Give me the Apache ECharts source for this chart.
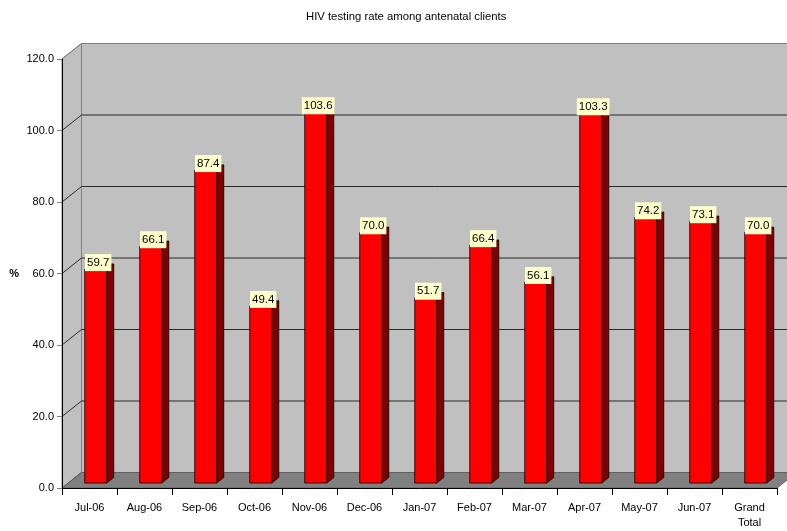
<!DOCTYPE html>
<html>
<head>
<meta charset="utf-8">
<script src="https://cdn.jsdelivr.net/npm/echarts@6/dist/echarts.min.js"></script>
<style>
  html, body { margin: 0; padding: 0; background: #fff; }
  #chart { width: 787px; height: 531px; }
</style>
</head>
<body>
<div id="chart"></div>
<script>
// Monthly HIV testing rate among antenatal clients (%)
const categories = ['Jul-06', 'Aug-06', 'Sep-06', 'Oct-06', 'Nov-06', 'Dec-06',
  'Jan-07', 'Feb-07', 'Mar-07', 'Apr-07', 'May-07', 'Jun-07', 'Grand\nTotal'];
const rates = [59.7, 66.1, 87.4, 49.4, 103.6, 70.0, 51.7, 66.4, 56.1, 103.3, 74.2, 73.1, 70.0];
const yTicks = [0, 20, 40, 60, 80, 100, 120];

// 3D projection: pixel shift of the back plane relative to the front plane
const DEPTH_X = 19.5;
const DEPTH_Y = -15.5;
const BAR_D0 = 0.32;   // bar front face depth fraction
const BAR_D1 = 0.68;   // bar back face depth fraction
const BAR_W = 0.4;     // bar width as fraction of category width
const FONT = '"Liberation Sans", Arial, sans-serif';

const chart = echarts.init(document.getElementById('chart'), null, { renderer: 'canvas' });

function renderWalls(params, api) {
  const n = categories.length;
  const band = api.size([1, 0])[0];
  const p0 = api.coord([0, 0]);
  const x0 = p0[0] - band / 2;
  const x1 = api.coord([n - 1, 0])[0] + band / 2;
  const yBottom = api.coord([0, yTicks[0]])[1];
  const yTop = api.coord([0, yTicks[yTicks.length - 1]])[1];
  const children = [];
  const rightEdge = params.coordSys.x + params.coordSys.width + 40;
  // back wall
  children.push({
    type: 'rect',
    shape: { x: x0 + DEPTH_X, y: yTop + DEPTH_Y, width: rightEdge - (x0 + DEPTH_X), height: yBottom - yTop },
    style: { fill: '#C0C0C0', stroke: '#808080', lineWidth: 1 }
  });
  // left side wall
  children.push({
    type: 'polygon',
    shape: { points: [[x0, yTop], [x0 + DEPTH_X, yTop + DEPTH_Y], [x0 + DEPTH_X, yBottom + DEPTH_Y], [x0, yBottom]] },
    style: { fill: '#C0C0C0', stroke: '#808080', lineWidth: 1 }
  });
  // floor
  children.push({
    type: 'polygon',
    shape: { points: [[x0, yBottom], [x1, yBottom], [x1 + DEPTH_X, yBottom + DEPTH_Y], [x0 + DEPTH_X, yBottom + DEPTH_Y]] },
    style: { fill: '#808080', stroke: '#606060', lineWidth: 1 }
  });
  // gridlines on back wall and left wall
  yTicks.forEach(function (v, i) {
    const y = api.coord([0, v])[1];
    const top = i === yTicks.length - 1;
    const color = top ? '#808080' : '#2a2a2a';
    if (i > 0) {
      children.push({
        type: 'line',
        shape: { x1: x0 + DEPTH_X, y1: y + DEPTH_Y, x2: rightEdge, y2: y + DEPTH_Y },
        style: { stroke: color, lineWidth: 1 }
      });
    }
    children.push({
      type: 'line',
      shape: { x1: x0, y1: y, x2: x0 + DEPTH_X, y2: y + DEPTH_Y },
      style: { stroke: i === 0 ? '#606060' : color, lineWidth: 1 }
    });
  });
  return { type: 'group', children: children };
}

function renderBar(params, api) {
  const idx = api.value(0);
  const val = api.value(1);
  const band = api.size([1, 0])[0];
  const w = band * BAR_W;
  const top = api.coord([idx, val]);
  const base = api.coord([idx, 0]);
  const fx0 = top[0] - w / 2 + DEPTH_X * BAR_D0;
  const fx1 = fx0 + w;
  const fyTop = top[1] + DEPTH_Y * BAR_D0;
  const fyBase = base[1] + DEPTH_Y * BAR_D0;
  const ddx = DEPTH_X * (BAR_D1 - BAR_D0);
  const ddy = DEPTH_Y * (BAR_D1 - BAR_D0);
  const stroke = { stroke: '#000', lineWidth: 0.8 };
  return {
    type: 'group',
    children: [
      {
        type: 'polygon',
        shape: { points: [[fx1, fyTop], [fx1 + ddx, fyTop + ddy], [fx1 + ddx, fyBase + ddy], [fx1, fyBase]] },
        style: Object.assign({ fill: '#800000' }, stroke)
      },
      {
        type: 'polygon',
        shape: { points: [[fx0, fyTop], [fx1, fyTop], [fx1 + ddx, fyTop + ddy], [fx0 + ddx, fyTop + ddy]] },
        style: Object.assign({ fill: '#FF0000' }, stroke)
      },
      {
        type: 'rect',
        shape: { x: fx0, y: fyTop, width: w, height: fyBase - fyTop },
        style: Object.assign({ fill: '#FF0000' }, stroke)
      },
      {
        type: 'text',
        z2: 10,
        style: {
          x: (fx0 + fx1) / 2 + ddx * 0.35,
          y: fyTop - 7,
          text: val.toFixed(1),
          align: 'center',
          verticalAlign: 'middle',
          fill: '#000',
          font: '11.5px ' + FONT,
          backgroundColor: '#FFFFCC',
          padding: [3, 2, 2, 2]
        }
      }
    ]
  };
}

const option = {
  animation: false,
  backgroundColor: '#ffffff',
  title: {
    text: 'HIV testing rate among antenatal clients',
    left: 301,
    top: 6,
    textStyle: { fontFamily: FONT, fontSize: 11.3, fontWeight: 'normal', color: '#000' }
  },
  grid: { left: 62, right: 10, top: 59, bottom: 43, containLabel: false },
  xAxis: {
    type: 'category',
    data: categories,
    boundaryGap: true,
    axisLine: { show: true, lineStyle: { color: '#000', width: 1 } },
    axisTick: { show: true, interval: 0, length: 7, lineStyle: { color: '#000' } },
    axisLabel: {
      interval: 0, margin: 12, color: '#000', fontSize: 11, lineHeight: 15,
      fontFamily: FONT
    },
    splitLine: { show: false },
    z: 5
  },
  yAxis: {
    type: 'value',
    min: 0, max: 120, interval: 20,
    name: '%',
    nameLocation: 'middle',
    nameRotate: 0,
    nameGap: 43,
    nameTextStyle: { fontFamily: FONT, fontSize: 11, fontWeight: 'bold', color: '#000' },
    axisLine: { show: true, lineStyle: { color: '#000', width: 1 } },
    axisTick: { show: true, length: 5, lineStyle: { color: '#808080' } },
    axisLabel: {
      margin: 8, color: '#000', fontSize: 11,
      fontFamily: FONT,
      formatter: function (v) { return v.toFixed(1); }
    },
    splitLine: { show: false },
    z: 5
  },
  series: [
    {
      type: 'custom',
      name: 'walls',
      renderItem: renderWalls,
      data: [[0, 0]],
      z: 1,
      silent: true,
      clip: false
    },
    {
      type: 'custom',
      name: 'rate',
      renderItem: renderBar,
      data: rates.map(function (v, i) { return [i, v]; }),
      encode: { x: 0, y: 1 },
      z: 2,
      clip: false
    }
  ]
};

chart.setOption(option);
</script>
</body>
</html>
